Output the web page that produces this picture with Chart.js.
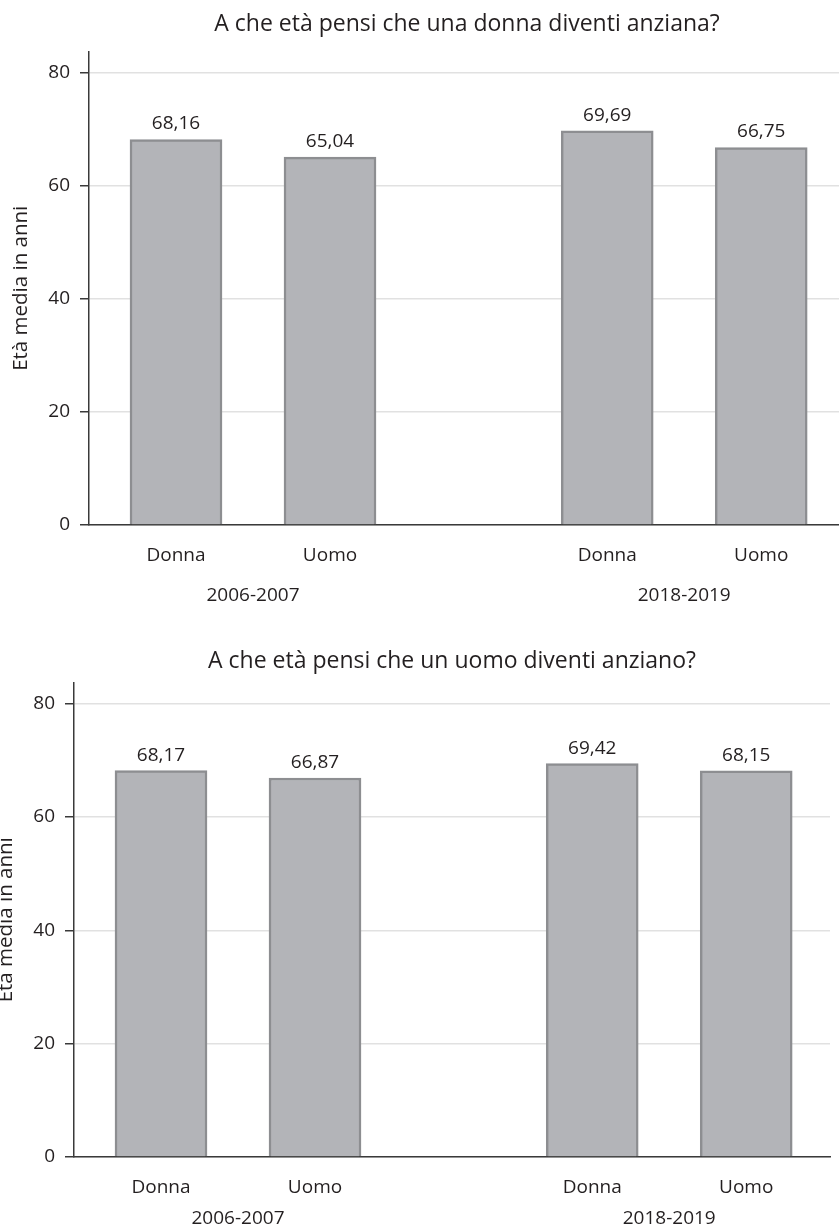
<!DOCTYPE html>
<html>
<head>
<meta charset="utf-8">
<script src="https://cdn.jsdelivr.net/npm/chart.js@4"></script>
<style>
  html, body { margin: 0; padding: 0; background: #fff; overflow: hidden; width: 839px; height: 1230px; position: relative; }
  canvas { position: absolute; }
  #womanChart { left: 0; top: 0; }
  #manChart { left: -15px; top: 631px; }
</style>
</head>
<body>
<canvas id="womanChart" width="850" height="615"></canvas>
<canvas id="manChart" width="850" height="599"></canvas>
<script>
// Survey periods and respondent groups
const periods = ['2006-2007', '2018-2019'];
const respondents = ['Donna', 'Uomo'];

// Mean age (years) at which a woman / a man is considered old, per period and respondent
const womanAgeValues = [68.16, 65.04, 69.69, 66.75];
const manAgeValues = [68.17, 66.87, 69.42, 68.15];

// Value axis ticks and texts
const yTickValues = [0, 20, 40, 60, 80];
const yAxisTitle = 'Età media in anni';
const womanTitle = 'A che età pensi che una donna diventi anziana?';
const manTitle = 'A che età pensi che un uomo diventi anziano?';

// Layout of the bar slots on the x axis (one unit per bar, wider gap between periods)
const GROUP_STEP = 2.8;
const X_MIN = -0.565;
const X_MAX = 4.344;
const Y_MAX = 83.7;

const FONT = '"Open Sans", "Noto Sans", sans-serif';
const TEXT = '#231f20';
Chart.defaults.font.family = FONT;
Chart.defaults.color = TEXT;

const slotOf = (g, i) => g * GROUP_STEP + i;
const barSlots = periods.flatMap((p, g) => respondents.map((r, i) => slotOf(g, i)));
const periodCenters = periods.map((p, g) => slotOf(g, (respondents.length - 1) / 2));

const formatValue = v => v.toFixed(2).replace('.', ',');

// Writes each bar's value above it
const valueLabels = {
  id: 'valueLabels',
  afterDatasetsDraw(chart) {
    const ctx = chart.ctx;
    ctx.save();
    ctx.font = '19px ' + FONT;
    ctx.fillStyle = TEXT;
    ctx.textAlign = 'center';
    ctx.textBaseline = 'alphabetic';
    chart.data.datasets.forEach((ds, di) => {
      chart.getDatasetMeta(di).data.forEach((bar, i) => {
        ctx.fillText(formatValue(ds.data[i].y), bar.x, bar.y - 10);
      });
    });
    ctx.restore();
  }
};

function makeChart(id, title, values, lay) {
  const points = barSlots.map((x, i) => ({ x, y: values[i] }));
  return new Chart(document.getElementById(id), {
    type: 'bar',
    data: {
      datasets: [{
        data: points,
        backgroundColor: '#b3b4b8',
        borderColor: '#8d8e91',
        borderWidth: 2.5,
        barThickness: 92
      }]
    },
    options: {
      responsive: false,
      animation: false,
      devicePixelRatio: 1,
      layout: { padding: { left: 0, right: 5, top: 0, bottom: 0 } },
      plugins: {
        legend: { display: false },
        tooltip: { enabled: false },
        title: {
          display: true,
          text: title,
          fullSize: false,
          color: TEXT,
          font: { size: 23, weight: 'normal', lineHeight: 1.2 },
          padding: lay.titlePad
        }
      },
      scales: {
        x: {
          type: 'linear',
          position: 'bottom',
          offset: false,
          weight: 0,
          min: X_MIN,
          max: X_MAX,
          afterBuildTicks: s => { s.ticks = barSlots.map(v => ({ value: v })); },
          afterFit: s => { s.height = 50; s.paddingLeft = 0; s.paddingRight = 0; },
          grid: { display: false, drawTicks: false, offset: false },
          border: { display: true, color: '#3a3a3a', width: 1.5 },
          ticks: {
            padding: 19,
            font: { size: 19 },
            color: TEXT,
            maxRotation: 0,
            autoSkip: false,
            callback: (v, i) => respondents[i % respondents.length]
          }
        },
        period: {
          type: 'linear',
          position: 'bottom',
          axis: 'x',
          offset: false,
          weight: 1,
          min: X_MIN,
          max: X_MAX,
          afterBuildTicks: s => { s.ticks = periodCenters.map(v => ({ value: v })); },
          afterFit: s => { s.height = lay.periodHeight; s.paddingLeft = 0; s.paddingRight = 0; },
          grid: { display: false, drawTicks: false, offset: false },
          border: { display: false },
          ticks: {
            padding: lay.periodPad,
            font: { size: 19 },
            color: TEXT,
            maxRotation: 0,
            autoSkip: false,
            callback: (v, i) => periods[i]
          }
        },
        y: {
          type: 'linear',
          min: 0,
          max: Y_MAX,
          afterBuildTicks: s => { s.ticks = yTickValues.map(v => ({ value: v })); },
          afterFit: s => { s.width = 89; s.paddingTop = 0; s.paddingBottom = 0; },
          grid: {
            color: '#e1e1e1',
            lineWidth: 1.5,
            tickColor: '#3a3a3a',
            tickWidth: 1.5,
            tickLength: 9
          },
          border: { display: true, color: '#3a3a3a', width: 1.5 },
          ticks: { padding: 10, font: { size: 19 }, color: TEXT },
          title: {
            display: true,
            text: yAxisTitle,
            color: TEXT,
            font: { size: 20.5 },
            padding: { top: 9, bottom: 0 }
          }
        }
      }
    },
    plugins: [valueLabels]
  });
}

makeChart('womanChart', womanTitle, womanAgeValues,
  { titlePad: { top: 11, bottom: 13 }, periodHeight: 40, periodPad: 9 });
makeChart('manChart', manTitle, manAgeValues,
  { titlePad: { top: 17, bottom: 7 }, periodHeight: 23, periodPad: 0 });
</script>
</body>
</html>
